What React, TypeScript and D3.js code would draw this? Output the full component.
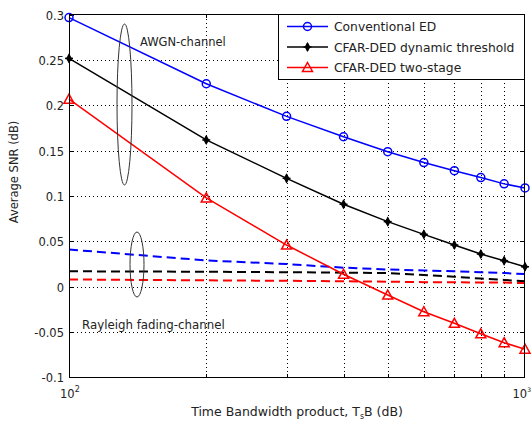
import { useRef, useEffect } from 'react';
import * as d3 from 'd3';

const xValues = [100, 200, 300, 400, 500, 600, 700, 800, 900, 1000];
const edAwgn = [0.297, 0.224, 0.188, 0.1655, 0.149, 0.137, 0.128, 0.1205, 0.1135, 0.109];
const dynAwgn = [0.252, 0.162, 0.1196, 0.091, 0.0718, 0.0578, 0.046, 0.036, 0.0287, 0.022];
const twoAwgn = [0.207, 0.098, 0.046, 0.0137, -0.0092, -0.0276, -0.0404, -0.052, -0.0618, -0.069];
const edRay = [0.041, 0.029, 0.025, 0.021, 0.019, 0.018, 0.017, 0.016, 0.015, 0.014];
const dynRay = [0.017, 0.0165, 0.016, 0.0155, 0.015, 0.013, 0.011, 0.009, 0.0075, 0.006];
const twoRay = [0.008, 0.007, 0.0065, 0.006, 0.0055, 0.005, 0.005, 0.0045, 0.0045, 0.004];
const yTicks = [-0.1, -0.05, 0, 0.05, 0.1, 0.15, 0.2, 0.25, 0.3];
const xMinor = [200, 300, 400, 500, 600, 700, 800, 900];
const xDecades = [100, 1000];
const legendNames = ['Conventional ED', 'CFAR-DED dynamic threshold', 'CFAR-DED two-stage'];

export default function App() {
  const svgRef = useRef<SVGSVGElement>(null);
  const width = 532;
  const height = 423;

  useEffect(() => {
    const svg = d3.select(svgRef.current);
    svg.selectAll('*').remove();
    const font = 'DejaVu Sans, sans-serif';
    const fs = 11.5;

    const x = d3.scaleLog().domain([100, 1000]).range([69, 525]);
    const y = d3.scaleLinear().domain([-0.1, 0.3]).range([377.3, 14.9]);

    // grid
    const grid = svg.append('g').attr('stroke', '#000').attr('stroke-width', 1).attr('stroke-dasharray', '1,3');
    yTicks.slice(1, -1).forEach(t => {
      grid.append('line').attr('x1', 69).attr('x2', 525).attr('y1', Math.round(y(t)) + 0.5).attr('y2', Math.round(y(t)) + 0.5);
    });
    xMinor.forEach(t => {
      grid.append('line').attr('x1', Math.round(x(t)) + 0.5).attr('x2', Math.round(x(t)) + 0.5).attr('y1', 15).attr('y2', 377);
    });

    // ticks
    const ticks = svg.append('g').attr('stroke', '#000').attr('stroke-width', 1);
    yTicks.forEach(t => {
      const yy = Math.round(y(t)) + 0.5;
      ticks.append('line').attr('x1', 69).attr('x2', 74).attr('y1', yy).attr('y2', yy);
      ticks.append('line').attr('x1', 520).attr('x2', 525).attr('y1', yy).attr('y2', yy);
      svg.append('text').attr('x', 64).attr('y', yy + 4).attr('text-anchor', 'end')
        .attr('font-family', font).attr('font-size', fs).attr('fill', '#222').text(String(t));
    });
    xMinor.forEach(t => {
      const xx = Math.round(x(t)) + 0.5;
      ticks.append('line').attr('x1', xx).attr('x2', xx).attr('y1', 377).attr('y2', 374);
      ticks.append('line').attr('x1', xx).attr('x2', xx).attr('y1', 15).attr('y2', 18);
    });

    // x tick labels (the 10^3 sits at the right edge)
    xDecades.forEach((v, i) => {
      const t = svg.append('text').attr('x', i === 0 ? x(v) - 9 : x(v) - 12.5).attr('y', 398)
        .attr('font-family', font).attr('font-size', fs).attr('fill', '#222');
      t.append('tspan').text('10');
      t.append('tspan').attr('dy', -6).attr('font-size', i === 0 ? 8 : 6).text(String(Math.log10(v)));
    });

    // series
    const line = d3.line<number>().x((_, i) => x(xValues[i])).y(d => y(d));
    const dashed = [
      { data: edRay, color: '#0000ff' },
      { data: dynRay, color: '#000' },
      { data: twoRay, color: '#ff0000' },
    ];
    dashed.forEach(s => {
      svg.append('path').attr('d', line(s.data)).attr('fill', 'none').attr('stroke', s.color)
        .attr('stroke-width', 2).attr('stroke-dasharray', '9,5');
    });

    const solid = [
      { data: edAwgn, color: '#0000ff', marker: 'circle' },
      { data: dynAwgn, color: '#000', marker: 'star' },
      { data: twoAwgn, color: '#ff0000', marker: 'triangle' },
    ];
    const drawMarker = (g: any, kind: string, cx: number, cy: number, color: string) => {
      if (kind === 'circle') {
        g.append('circle').attr('cx', cx).attr('cy', cy).attr('r', 4).attr('fill', 'none')
          .attr('stroke', color).attr('stroke-width', 1.5);
      } else if (kind === 'star') {
        g.append('path').attr('d', d3.symbol(d3.symbolDiamond, 30)()).attr('transform', `translate(${cx},${cy})`)
          .attr('fill', color);
        g.append('line').attr('x1', cx - 4).attr('x2', cx + 4).attr('y1', cy).attr('y2', cy).attr('stroke', color).attr('stroke-width', 1.5);
        g.append('line').attr('x1', cx).attr('x2', cx).attr('y1', cy - 4).attr('y2', cy + 4).attr('stroke', color).attr('stroke-width', 1.5);
      } else {
        g.append('path').attr('d', `M${cx},${cy - 5}L${cx + 5},${cy + 4}L${cx - 5},${cy + 4}Z`)
          .attr('fill', 'none').attr('stroke', color).attr('stroke-width', 1.5);
      }
    };
    solid.forEach(s => {
      svg.append('path').attr('d', line(s.data)).attr('fill', 'none').attr('stroke', s.color).attr('stroke-width', 1.5);
      const g = svg.append('g');
      s.data.forEach((d, i) => drawMarker(g, s.marker, x(xValues[i]), y(d), s.color));
    });

    // ellipses + annotations
    svg.append('ellipse').attr('cx', 124.5).attr('cy', 104.5).attr('rx', 7.5).attr('ry', 80.5)
      .attr('fill', 'none').attr('stroke', '#333').attr('stroke-width', 1);
    svg.append('ellipse').attr('cx', 137).attr('cy', 264.5).attr('rx', 7).attr('ry', 32.5)
      .attr('fill', 'none').attr('stroke', '#333').attr('stroke-width', 1);
    svg.append('text').attr('x', 140).attr('y', 46).attr('font-family', font).attr('font-size', fs)
      .attr('fill', '#222').text('AWGN-channel');
    svg.append('text').attr('x', 82).attr('y', 329).attr('font-family', font).attr('font-size', 11.8)
      .attr('fill', '#222').text('Rayleigh fading-channel');

    // axes box
    svg.append('rect').attr('x', 69.5).attr('y', 14.5).attr('width', 455).attr('height', 363)
      .attr('fill', 'none').attr('stroke', '#000').attr('stroke-width', 1);

    // legend
    const lg = svg.append('g');
    lg.append('rect').attr('x', 278.5).attr('y', 14.5).attr('width', 246).attr('height', 65)
      .attr('fill', '#fff').attr('stroke', '#000').attr('stroke-width', 1);
    legendNames.forEach((name, i) => {
      const ly = 26.5 + i * 20.5;
      lg.append('line').attr('x1', 287).attr('x2', 328).attr('y1', ly).attr('y2', ly)
        .attr('stroke', solid[i].color).attr('stroke-width', 1.5);
      drawMarker(lg, solid[i].marker, 307.5, ly, solid[i].color);
      lg.append('text').attr('x', 334).attr('y', ly + 4.5).attr('font-family', font).attr('font-size', 12.3)
        .attr('fill', '#222').text(name);
    });

    // axis labels
    svg.append('text').attr('transform', 'translate(18,172) rotate(-90)').attr('text-anchor', 'middle')
      .attr('font-family', font).attr('font-size', 11.5).attr('fill', '#222').text('Average SNR (dB)');
    const xl = svg.append('text').attr('x', 297).attr('y', 416).attr('text-anchor', 'middle')
      .attr('font-family', font).attr('font-size', 12.5).attr('fill', '#222');
    xl.append('tspan').text('Time Bandwidth product, T');
    xl.append('tspan').attr('dy', 3).attr('font-size', 8).text('s');
    xl.append('tspan').attr('dy', -3).text('B (dB)');
  }, []);

  return (
    <svg ref={svgRef} width={width} height={height} style={{ position: 'absolute', left: 0, top: 0, background: '#fff' }}></svg>
  );
}
